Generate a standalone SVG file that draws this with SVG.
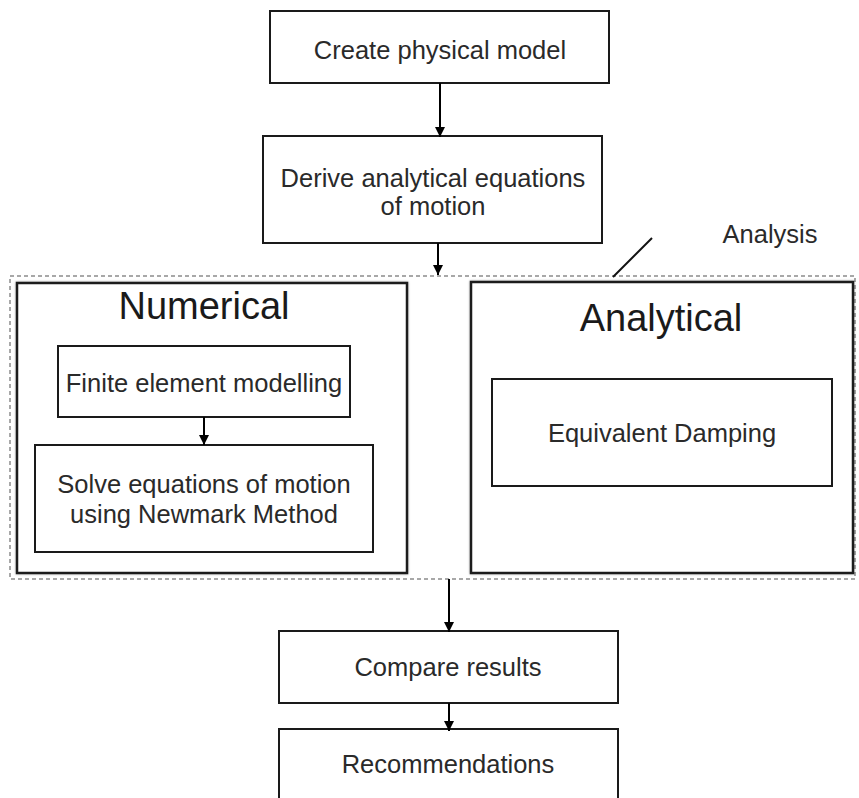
<svg xmlns="http://www.w3.org/2000/svg" width="859" height="798" viewBox="0 0 859 798">
  <defs>
    <marker id="arrow" viewBox="0 0 10 10" refX="10" refY="5" markerWidth="10" markerHeight="10" markerUnits="userSpaceOnUse" orient="auto">
      <path d="M0,0 L10,5 L0,10 z" fill="#000"/>
    </marker>
    <filter id="soft" x="-5%" y="-5%" width="110%" height="110%">
      <feGaussianBlur in="SourceAlpha" stdDeviation="1.2"/>
      <feOffset dx="0" dy="0" result="b"/>
      <feFlood flood-color="#000" flood-opacity="0.35"/>
      <feComposite in2="b" operator="in"/>
      <feMerge><feMergeNode/><feMergeNode in="SourceGraphic"/></feMerge>
    </filter>
  </defs>
  <style>
    .box { fill: #fff; stroke: #1a1a1a; stroke-width: 2; }
    .panel { fill: #fff; stroke: #1a1a1a; stroke-width: 2.5; }
    .region { fill: none; stroke: #a8a8a8; stroke-width: 2; stroke-dasharray: 4 3; }
    .lbl { font-family: "Liberation Sans", Arial, sans-serif; font-size: 25.5px; fill: #2a2a2a; text-anchor: middle; }
    .title { font-family: "Liberation Sans", Arial, sans-serif; font-size: 38px; fill: #1a1a1a; text-anchor: middle; }
    .conn { stroke: #000; stroke-width: 2; fill: none; }
  </style>
  <rect width="859" height="798" fill="#fff"/>

  <g id="create-model">
    <rect class="box" x="270" y="11" width="339" height="72"/>
    <text class="lbl" x="440" y="59">Create physical model</text>
  </g>

  <g id="derive-equations">
    <rect class="box" x="263" y="136" width="339" height="107"/>
    <text class="lbl" x="433" y="187">Derive analytical equations</text>
    <text class="lbl" x="433" y="215">of motion</text>
  </g>

  <g id="analysis">
    <rect class="region" x="10" y="276" width="845" height="303"/>
    <text class="lbl" x="770" y="243">Analysis</text>
    <line x1="652" y1="238" x2="613" y2="277" stroke="#111" stroke-width="2"/>
  </g>

  <g id="numerical">
    <rect class="panel" x="17" y="283" width="390" height="290" filter="url(#soft)"/>
    <text class="title" x="204" y="319">Numerical</text>
  </g>

  <g id="finite-element">
    <rect class="box" x="58" y="346" width="292" height="71"/>
    <text class="lbl" x="204" y="392">Finite element modelling</text>
  </g>

  <g id="solve-newmark">
    <rect class="box" x="35" y="445" width="338" height="107"/>
    <text class="lbl" x="204" y="493">Solve equations of motion</text>
    <text class="lbl" x="204" y="523">using Newmark Method</text>
  </g>

  <g id="analytical">
    <rect class="panel" x="471" y="282" width="382" height="291" filter="url(#soft)"/>
    <text class="title" x="661" y="331">Analytical</text>
  </g>

  <g id="equivalent-damping">
    <rect class="box" x="492" y="379" width="340" height="107"/>
    <text class="lbl" x="662" y="442">Equivalent Damping</text>
  </g>

  <g id="compare-results">
    <rect class="box" x="279" y="631" width="339" height="72"/>
    <text class="lbl" x="448" y="676">Compare results</text>
  </g>

  <g id="recommendations">
    <rect class="box" x="279" y="729" width="339" height="80"/>
    <text class="lbl" x="448" y="773">Recommendations</text>
  </g>

  <g id="connectors">
    <line class="conn" x1="440" y1="83" x2="440" y2="137" marker-end="url(#arrow)"/>
    <line class="conn" x1="438" y1="243" x2="438" y2="275" marker-end="url(#arrow)"/>
    <line class="conn" x1="204" y1="417" x2="204" y2="445" marker-end="url(#arrow)"/>
    <line class="conn" x1="449" y1="579" x2="449" y2="632" marker-end="url(#arrow)"/>
    <line class="conn" x1="449" y1="703" x2="449" y2="731" marker-end="url(#arrow)"/>
  </g>
</svg>
